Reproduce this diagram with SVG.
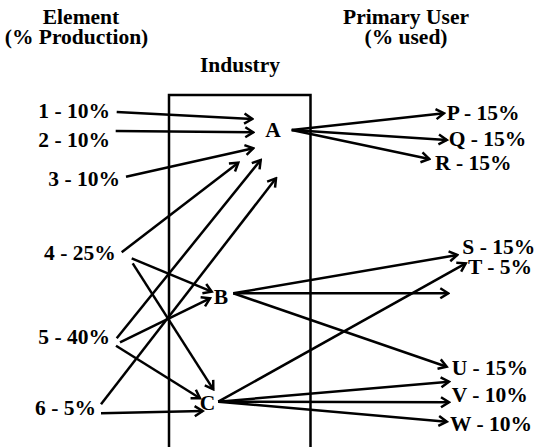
<svg xmlns="http://www.w3.org/2000/svg" width="537" height="447" viewBox="0 0 537 447">
<defs>
<style>
text{font-family:"Liberation Serif","Times New Roman",serif;font-weight:bold;font-size:21.5px;fill:#000}
.c{text-anchor:middle}
.ln{stroke:#000;stroke-width:2.5;fill:none;marker-end:url(#ah)}
.box{stroke:#000;stroke-width:2.5;fill:none}
</style>
<marker id="ah" markerUnits="userSpaceOnUse" viewBox="-12 -8 14 16" refX="0" refY="0" markerWidth="14" markerHeight="16" orient="auto">
<path d="M-8,-5 L0,0 L-8,5" fill="none" stroke="#000" stroke-width="2.5" stroke-linejoin="miter"/>
</marker>
</defs>
<rect width="537" height="447" fill="#fff"/>
<g id="headers">
<text class="c" x="81" y="23.5">Element</text>
<text class="c" x="76.5" y="43.5">(% Production)</text>
<text class="c" x="406" y="23.5">Primary User</text>
<text class="c" x="406" y="43.5">(% used)</text>
</g>
<g id="industry">
<path class="box" d="M169,447 V95 H310.5 V447"/>
<text class="c" x="240" y="71.7">Industry</text>
</g>
<g id="connectors">
<line class="ln" x1="116.7" y1="112" x2="252.3" y2="119"/>
<line class="ln" x1="115.7" y1="131" x2="253.3" y2="132.3"/>
<line class="ln" x1="126" y1="176.7" x2="253.3" y2="148.3"/>
<line class="ln" x1="121.7" y1="252.3" x2="238.3" y2="162.7"/>
<line class="ln" x1="131.7" y1="258.3" x2="211.7" y2="291.7"/>
<line class="ln" x1="132.7" y1="263.3" x2="213.3" y2="389.3"/>
<line class="ln" x1="116.7" y1="338.3" x2="260.7" y2="160"/>
<line class="ln" x1="120" y1="342.3" x2="210" y2="298.3"/>
<line class="ln" x1="116" y1="345.7" x2="200" y2="398.3"/>
<line class="ln" x1="101" y1="404.3" x2="276" y2="178.3"/>
<line class="ln" x1="101" y1="413.3" x2="202.7" y2="411"/>
<line class="ln" x1="291.7" y1="130" x2="444" y2="113.3"/>
<line class="ln" x1="291.7" y1="130" x2="446.7" y2="140"/>
<line class="ln" x1="291.7" y1="130" x2="429.3" y2="159"/>
<line class="ln" x1="233.3" y1="293.3" x2="457.3" y2="255"/>
<line class="ln" x1="233.3" y1="293.3" x2="448.3" y2="293.3"/>
<line class="ln" x1="233.3" y1="293.3" x2="446.7" y2="366.7"/>
<line class="ln" x1="218.3" y1="401.7" x2="465.7" y2="263.3"/>
<line class="ln" x1="218.3" y1="401.7" x2="449" y2="381.7"/>
<line class="ln" x1="218.3" y1="401.7" x2="449" y2="402.3"/>
<line class="ln" x1="218.3" y1="401.7" x2="446.7" y2="421.7"/>
</g>
<g id="elements">
<text x="38.3" y="118.3">1 - 10%</text>
<text x="38.3" y="146.7">2 - 10%</text>
<text x="48.3" y="185.7">3 - 10%</text>
<text x="44" y="260">4 - 25%</text>
<text x="38.3" y="344.3">5 - 40%</text>
<text x="35" y="415">6 - 5%</text>
</g>
<g id="nodeA"><text class="c" x="273" y="137.3">A</text></g>
<g id="nodeB"><text class="c" x="221" y="304">B</text></g>
<g id="nodeC"><text class="c" x="207.5" y="410">C</text></g>
<g id="users">
<text x="446.7" y="120">P - 15%</text>
<text x="448.7" y="146">Q - 15%</text>
<text x="435" y="170">R - 15%</text>
<text x="462.3" y="253.5">S - 15%</text>
<text x="468" y="274">T - 5%</text>
<text x="451.7" y="375">U - 15%</text>
<text x="451.7" y="401.7">V - 10%</text>
<text x="450" y="431">W - 10%</text>
</g>
</svg>
